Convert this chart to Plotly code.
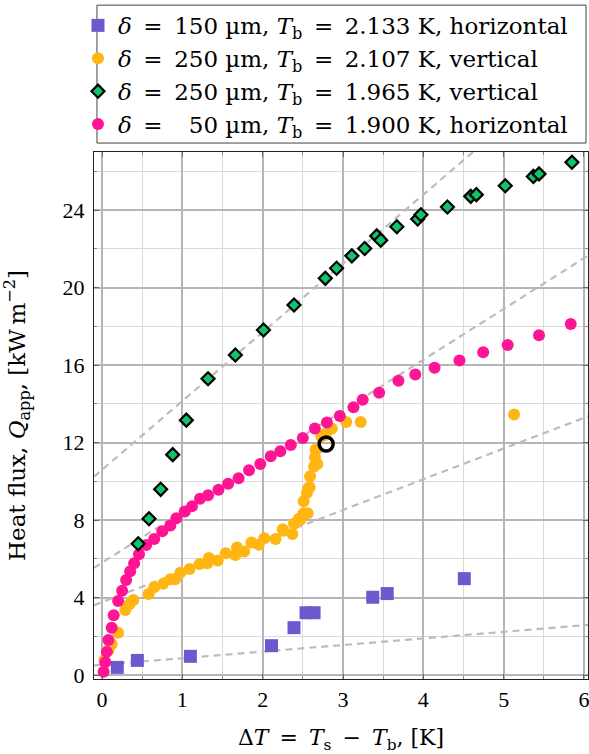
import numpy as np
import plotly.graph_objects as go

# ---------------- data ----------------
sq_x = [0.19, 0.44, 1.10, 2.11, 2.39, 2.54, 2.64, 3.37, 3.55, 4.51]
sq_y = [0.40, 0.76, 0.97, 1.52, 2.45, 3.22, 3.22, 4.02, 4.21, 4.98]

yel_x = [0.03, 0.08, 0.12, 0.20, 0.29, 0.34, 0.39, 0.58, 0.65, 0.76, 0.85, 0.91,
         0.975, 1.09, 1.215, 1.31, 1.33, 1.44, 1.54, 1.66, 1.68, 1.77, 1.86, 1.95,
         2.02, 2.16, 2.25, 2.26, 2.37, 2.39, 2.45, 2.47, 2.51, 2.56, 2.51, 2.55,
         2.57, 2.585, 2.59, 2.64, 2.68, 2.65, 2.66, 2.67, 2.73, 2.78, 2.79, 2.86,
         3.04, 3.22, 5.13]
yel_y = [0.78, 1.30, 1.60, 2.19, 3.36, 3.66, 3.88, 4.19, 4.53, 4.71, 4.95, 4.95,
         5.29, 5.48, 5.74, 5.78, 6.04, 5.91, 6.29, 6.20, 6.59, 6.38, 6.85, 6.73,
         7.07, 7.02, 7.53, 7.45, 7.28, 7.81, 8.07, 8.02, 8.36, 8.36, 8.97, 9.40,
         9.66, 9.70, 10.26, 10.77, 10.90, 11.24, 11.64, 11.64, 12.33, 12.40, 12.50, 12.73,
         13.07, 13.07, 13.45]

dia_x = [0.45, 0.585, 0.73, 0.88, 1.05, 1.32, 1.66, 2.01, 2.39, 2.78, 2.92, 3.11,
         3.27, 3.42, 3.47, 3.67, 3.93, 3.97, 4.30, 4.59, 4.66, 5.02, 5.37, 5.44, 5.85]
dia_y = [6.78, 8.07, 9.59, 11.38, 13.16, 15.30, 16.52, 17.81, 19.10, 20.48, 21.00, 21.64,
         22.02, 22.67, 22.45, 23.14, 23.54, 23.76, 24.16, 24.71, 24.80, 25.26, 25.74, 25.87, 26.47]

pk_x = [0.02, 0.04, 0.06, 0.08, 0.12, 0.145, 0.20, 0.25, 0.30, 0.35, 0.40, 0.46,
        0.55, 0.65, 0.75, 0.85, 0.925, 1.03, 1.12, 1.22, 1.32, 1.45, 1.57, 1.70,
        1.83, 1.97, 2.10, 2.22, 2.35, 2.50, 2.65, 2.80, 2.96, 3.13, 3.245, 3.45,
        3.69, 3.90, 4.14, 4.45, 4.745, 5.05, 5.44, 5.835]
pk_y = [0.17, 0.66, 1.20, 1.81, 2.45, 3.09, 3.83, 4.36, 4.91, 5.36, 5.78, 6.24,
        6.71, 7.02, 7.43, 7.72, 8.10, 8.45, 8.71, 9.10, 9.28, 9.57, 9.88, 10.16,
        10.57, 10.90, 11.30, 11.55, 11.88, 12.24, 12.73, 13.04, 13.38, 13.83, 14.21, 14.57,
        15.19, 15.52, 15.87, 16.24, 16.67, 17.04, 17.54, 18.12]

ring_x = [2.79]
ring_y = [11.93]

# dashed reference lines: intercept, slope
fit_intercepts = [10.6, 5.80, 3.77, 0.535]
fit_slopes = [3.55, 2.62, 1.585, 0.34]

EQ = "\u2002=\u2002"
names = [
    f"<i>δ</i>{EQ}150 µm, <i>T</i><sub>b</sub>{EQ}2.133 K, horizontal",
    f"<i>δ</i>{EQ}250 µm, <i>T</i><sub>b</sub>{EQ}2.107 K, vertical",
    f"<i>δ</i>{EQ}250 µm, <i>T</i><sub>b</sub>{EQ}1.965 K, vertical",
    f"<i>δ</i>{EQ}\u200750 µm, <i>T</i><sub>b</sub>{EQ}1.900 K, horizontal",
]

x_range = [-0.1, 6.05]
y_range = [-0.2, 27.0]

TICKFONT = "Liberation Serif"
TEXTFONT = "DejaVu Serif"

fig = go.Figure()

xx = np.array(x_range)
for b, m in zip(fit_intercepts, fit_slopes):
    fig.add_trace(go.Scatter(x=xx, y=b + m * xx, mode="lines",
                             line=dict(color="#bcbcbc", width=2.2, dash="7px,5px"),
                             showlegend=False, hoverinfo="skip"))

fig.add_trace(go.Scatter(x=sq_x, y=sq_y, mode="markers", name=names[0], legendrank=1,
                         marker=dict(symbol="square", size=13, color="#6A5ACD")))
fig.add_trace(go.Scatter(x=yel_x, y=yel_y, mode="markers", name=names[1], legendrank=2,
                         marker=dict(symbol="circle", size=12, color="#FFB612")))
fig.add_trace(go.Scatter(x=pk_x, y=pk_y, mode="markers", name=names[3], legendrank=4,
                         marker=dict(symbol="circle", size=12, color="#FF1493")))
fig.add_trace(go.Scatter(x=dia_x, y=dia_y, mode="markers", name=names[2], legendrank=3,
                         marker=dict(symbol="diamond", size=10, color="#10C46A",
                                     line=dict(color="black", width=2.2))))
fig.add_trace(go.Scatter(x=ring_x, y=ring_y, mode="markers", showlegend=False,
                         marker=dict(symbol="circle-open", size=14, color="black",
                                     line=dict(color="black", width=3.5))))

axis_common = dict(
    showline=True, linecolor="#222", linewidth=1.3, mirror="allticks",
    ticks="inside", ticklen=5, tickcolor="#666", tickwidth=1.2,
    showgrid=True, gridcolor="#b5b5b5", gridwidth=1.6,
    zeroline=False, automargin=False, ticklabeloverflow="allow",
    tickfont=dict(family=TICKFONT, size=22, color="black"),
)

fig.update_xaxes(range=x_range, dtick=1, tick0=0,
                 minor=dict(dtick=0.5, showgrid=True, gridcolor="#d9d9d9", gridwidth=1.2,
                            ticks="inside", ticklen=3, tickcolor="#888"),
                 title=dict(text="Δ<i>T</i>\u2002=\u2002<i>T</i><sub>s</sub>\u2002−\u2002<i>T</i><sub>b</sub>, [K]",
                            font=dict(family=TEXTFONT, size=22, color="black"), standoff=22),
                 **axis_common)
fig.update_yaxes(range=y_range, dtick=4, tick0=0, ticklabelstandoff=4,
                 minor=dict(dtick=2, showgrid=True, gridcolor="#d9d9d9", gridwidth=1.2,
                            ticks="inside", ticklen=3, tickcolor="#888"),
                 title=dict(text="Heat flux, <i>Q</i><sub>app</sub>, [kW\u2009m<sup>−2</sup>]",
                            font=dict(family=TEXTFONT, size=23, color="black"), standoff=30),
                 **axis_common)

# legend frame (layout decoration)
fig.add_shape(type="rect", xref="paper", yref="paper",
              x0=0.006, x1=0.996, y0=1.017, y1=1.2787,
              line=dict(color="#444", width=1), fillcolor="white", layer="below")

fig.update_layout(
    width=589, height=754,
    margin=dict(l=94, r=1, t=152, b=75),
    plot_bgcolor="white", paper_bgcolor="white",
    font=dict(family=TEXTFONT, color="black"),
    legend=dict(x=-0.0324, y=1.281, xanchor="left", yanchor="top",
                borderwidth=0, bgcolor="rgba(0,0,0,0)",
                font=dict(family=TEXTFONT, size=23, color="black"),
                itemwidth=30, tracegroupgap=0),
    showlegend=True,
)

fig.write_html("out.html")
